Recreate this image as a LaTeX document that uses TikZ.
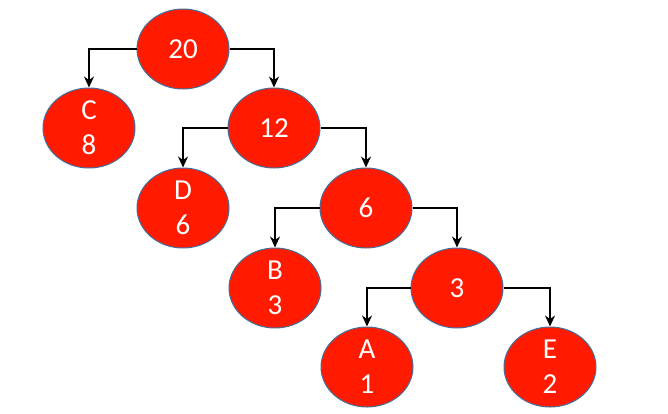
\documentclass[tikz,border=0pt]{standalone}
\usepackage{fontspec}
\setmainfont{Carlito}
\usetikzlibrary{shapes.geometric,arrows.meta}
\definecolor{nodered}{RGB}{255,26,0}
\definecolor{nodeedge}{RGB}{65,113,156}
\tikzset{
  tnode/.style={ellipse, fill=nodered, draw=nodeedge, line width=1pt,
    minimum width=92pt, minimum height=80pt, inner sep=0pt,
    text=white, align=center, font=\fontsize{29}{35}\selectfont},
  conn/.style={draw=black, line width=2.5pt, -{Stealth[length=11pt,width=10pt]}}
}
\begin{document}
\begin{tikzpicture}[x=1pt,y=-1pt]
\useasboundingbox (0,0) rectangle (668,413);
\node[tnode] (n20) at (183,49) {20};
\node[tnode] (nC) at (89,128) {C\\8};
\node[tnode] (n12) at (274,128) {12};
\node[tnode] (nD) at (183,208) {D\\6};
\node[tnode] (n6) at (366,208) {6};
\node[tnode] (nB) at (275,288) {B\\3};
\node[tnode] (n3) at (457,288) {3};
\node[tnode] (nA) at (367,367) {A\\1};
\node[tnode] (nE) at (550,367) {E\\2};
\draw[conn] (n20.west) -| (nC.north);
\draw[conn] (n20.east) -| (n12.north);
\draw[conn] (n12.west) -| (nD.north);
\draw[conn] (n12.east) -| (n6.north);
\draw[conn] (n6.west) -| (nB.north);
\draw[conn] (n6.east) -| (n3.north);
\draw[conn] (n3.west) -| (nA.north);
\draw[conn] (n3.east) -| (nE.north);
\end{tikzpicture}
\end{document}
